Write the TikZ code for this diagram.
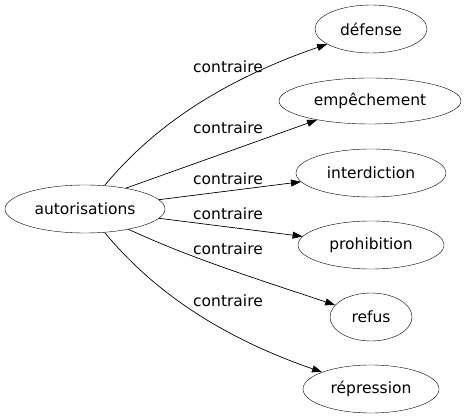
\documentclass[tikz,border=0pt]{standalone}
\usepackage{fontspec}
\setmainfont{DejaVu Sans}
\usetikzlibrary{shapes.geometric,arrows.meta}
\begin{document}
\begin{tikzpicture}[x=1pt,y=-1pt,
  word/.style={ellipse,draw,inner sep=0pt,font=\fontsize{15.5}{18}\selectfont},
  lab/.style={inner sep=0pt,font=\fontsize{15.5}{18}\selectfont},
  rel/.style={draw,line width=0.7pt,-{Triangle[length=10pt,width=7pt]}}]
\useasboundingbox (0,0) rectangle (467,419);
\node[word,minimum width=160pt,minimum height=48pt] (a) at (85,209) {autorisations};
\node[word,minimum width=112pt,minimum height=48pt] (b1) at (371,29) {défense};
\node[word,minimum width=182pt,minimum height=46pt] (b2) at (370,101) {empêchement};
\node[word,minimum width=150pt,minimum height=48pt] (b3) at (371,173) {interdiction};
\node[word,minimum width=146pt,minimum height=48pt] (b4) at (371,245) {prohibition};
\node[word,minimum width=82pt,minimum height=48pt] (b5) at (371,317) {refus};
\node[word,minimum width=136pt,minimum height=48pt] (b6) at (371,389) {répression};
\node[lab] (l1) at (228,67) {contraire};
\node[lab] (l2) at (228,128) {contraire};
\node[lab] (l3) at (228,179) {contraire};
\node[lab] (l4) at (228,214) {contraire};
\node[lab] (l5) at (228,249) {contraire};
\node[lab] (l6) at (228,301) {contraire};
\draw[rel] (a) .. controls (140,143) and (200,88) .. (b1);
\draw[rel] (a.27) -- (b2);
\draw[rel] (a) -- (b3);
\draw[rel] (a) -- (b4);
\draw[rel] (a) .. controls (190,258) and (260,280) .. (b5);
\draw[rel] (a) .. controls (140,275) and (200,330) .. (b6);
\end{tikzpicture}
\end{document}
